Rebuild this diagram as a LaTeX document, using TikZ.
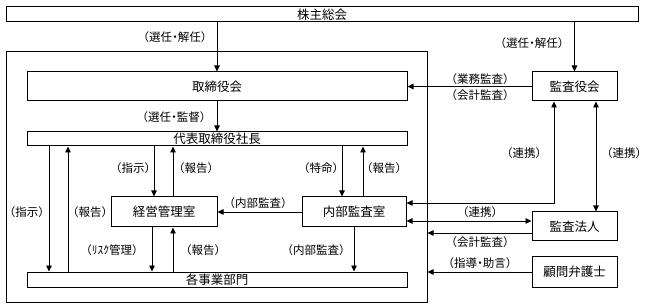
\documentclass[tikz,border=0pt]{standalone}
\usepackage{fontspec}
\newfontfamily\cjk[RawFeature={+halt}]{Noto Sans CJK JP}
\usetikzlibrary{arrows.meta}
\begin{document}
\begin{tikzpicture}[x=1pt,y=-1pt,
  box/.style={draw,line width=1pt,inner sep=0pt,font=\cjk\fontsize{12.5}{13}\selectfont},
  lbl/.style={inner sep=0pt,font=\cjk\fontsize{11.5}{12}\selectfont},
  conn/.style={line width=0.8pt},
  arr/.style={conn,-{Triangle[length=6pt,width=5.5pt]}},
  darr/.style={conn,{Triangle[length=6pt,width=5.5pt]}-{Triangle[length=6pt,width=5.5pt]}}]
\useasboundingbox (0,0) rectangle (648,307);
% boxes
\node[box,minimum width=632pt,minimum height=15pt] (sh) at (322,14.5) {株主総会};
\node[draw,line width=1pt,minimum width=421pt,minimum height=250pt,inner sep=0pt] (outer) at (216.5,177) {};
\node[box,minimum width=380pt,minimum height=29pt] (tb) at (217,86.5) {取締役会};
\node[box,minimum width=380pt,minimum height=14pt] (ceo) at (217,139) {代表取締役社長};
\node[box,minimum width=106pt,minimum height=30pt] (kk) at (164,212) {経営管理室};
\node[box,minimum width=104pt,minimum height=30pt] (nb) at (354,212) {内部監査室};
\node[box,minimum width=380pt,minimum height=15pt] (bu) at (217,279.5) {各事業部門};
\node[box,minimum width=85pt,minimum height=29pt] (ky) at (574.5,86.5) {監査役会};
\node[box,minimum width=85pt,minimum height=29pt] (kh) at (574.5,226.5) {監査法人};
\node[box,minimum width=85pt,minimum height=30pt] (kb) at (574.5,272) {顧問弁護士};
% helper coordinates
\coordinate (xa) at (49,0);
\coordinate (xb) at (68,0);
\coordinate (xc) at (154,0);
\coordinate (xd) at (173,0);
\coordinate (xe) at (152,0);
\coordinate (xf) at (342,0);
\coordinate (xg) at (363,0);
\coordinate (xh) at (554,0);
\coordinate (xi) at (596,0);
\coordinate (ya) at (0,203);
\coordinate (yb) at (0,221);
\coordinate (yc) at (0,233);
% connectors
\draw[arr] (sh.south -| tb.north) -- (tb.north);
\draw[arr] (sh.south -| ky.north) -- (ky.north);
\draw[arr] (tb.south) -- (ceo.north);
\draw[arr] (ky.west) -- (tb.east);
\draw[arr] (ceo.south -| xa) -- (bu.north -| xa);
\draw[arr] (bu.north -| xb) -- (ceo.south -| xb);
\draw[arr] (ceo.south -| xc) -- (kk.north -| xc);
\draw[arr] (kk.north -| xd) -- (ceo.south -| xd);
\draw[arr] (kk.south -| xe) -- (bu.north -| xe);
\draw[arr] (bu.north -| xd) -- (kk.south -| xd);
\draw[arr] (ceo.south -| xf) -- (nb.north -| xf);
\draw[arr] (nb.north -| xg) -- (ceo.south -| xg);
\draw[arr] (nb.south) -- (bu.north -| nb.south);
\draw[arr] (nb.west) -- (kk.east);
\draw[darr] (ky.south -| xh) |- (nb.east |- ya);
\draw[darr] (ky.south -| xi) -- (kh.north -| xi);
\draw[darr] (nb.east |- yb) -- (kh.west |- yb);
\draw[arr] (kh.west |- yc) -- (outer.east |- yc);
\draw[arr] (kb.west) -- (outer.east |- kb.west);
% labels
\node[lbl] (l1) at (175,37) {（選任・解任）};
\node[lbl] (l2) at (174,117) {（選任・監督）};
\node[lbl] (l3) at (532,43) {（選任・解任）};
\node[lbl] (l4) at (480,79) {（業務監査）};
\node[lbl] (l5) at (480,95) {（会計監査）};
\node[lbl] (l6) at (524,153) {（連携）};
\node[lbl] (l7) at (624,153) {（連携）};
\node[lbl] (l8) at (133,168) {（指示）};
\node[lbl] (l9) at (196,168) {（報告）};
\node[lbl] (l10) at (321,168) {（特命）};
\node[lbl] (l11) at (384,168) {（報告）};
\node[lbl] (l12) at (27,212) {（指示）};
\node[lbl] (l13) at (90,212) {（報告）};
\node[lbl] (l14) at (258,203) {（内部監査）};
\node[lbl] (l15) at (112,250) {（ﾘｽｸ管理）};
\node[lbl] (l16) at (203,250) {（報告）};
\node[lbl] (l17) at (316,250) {（内部監査）};
\node[lbl] (l18) at (480,212) {（連携）};
\node[lbl] (l19) at (480,242) {（会計監査）};
\node[lbl] (l20) at (480,263) {（指導・助言）};
\end{tikzpicture}
\end{document}
